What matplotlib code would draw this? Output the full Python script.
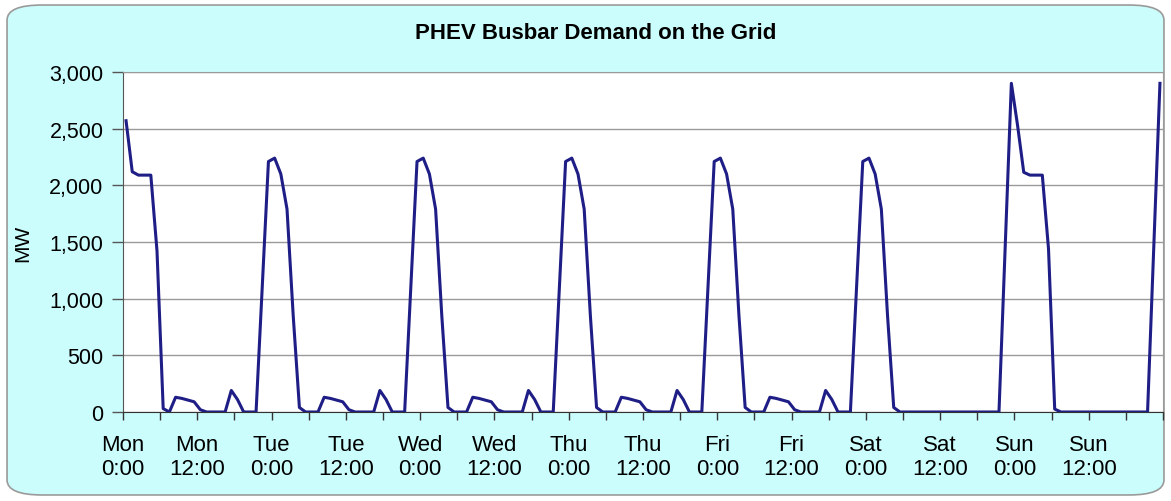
import numpy as np
import matplotlib
matplotlib.use("Agg")
import matplotlib.pyplot as plt
from matplotlib.patches import FancyBboxPatch

plt.rcParams["font.family"] = ["Liberation Sans", "DejaVu Sans"]

# hourly busbar demand (MW), one list per day, hour 0..23
mon = [2570, 2120, 2090, 2090, 2090, 1420, 30, 0, 130, 120, 105, 90,
       20, 0, 0, 0, 0, 190, 110, 0, 0, 0, 1110, 2210]
tue = [2240, 2100, 1790, 850, 40, 0, 0, 0, 130, 120, 105, 90,
       20, 0, 0, 0, 0, 190, 110, 0, 0, 0, 1110, 2210]
wed = [2240, 2100, 1790, 850, 40, 0, 0, 0, 130, 120, 105, 90,
       20, 0, 0, 0, 0, 190, 110, 0, 0, 0, 1110, 2210]
thu = [2240, 2100, 1790, 850, 40, 0, 0, 0, 130, 120, 105, 90,
       20, 0, 0, 0, 0, 190, 110, 0, 0, 0, 1110, 2210]
fri = [2240, 2100, 1790, 850, 40, 0, 0, 0, 130, 120, 105, 90,
       20, 0, 0, 0, 0, 190, 110, 0, 0, 0, 1110, 2210]
sat = [2240, 2100, 1790, 850, 40, 0, 0, 0, 0, 0, 0, 0,
       0, 0, 0, 0, 0, 0, 0, 0, 0, 0, 1450, 2900]
sun = [2530, 2115, 2090, 2090, 2090, 1440, 26, 0, 0, 0, 0, 0,
       0, 0, 0, 0, 0, 0, 0, 0, 0, 0, 1450, 2900]

day_names = ["Mon", "Tue", "Wed", "Thu", "Fri", "Sat", "Sun"]
half_day_times = ["0:00", "12:00"]
y_ticks = [0, 500, 1000, 1500, 2000, 2500, 3000]

demand = np.array(mon + tue + wed + thu + fri + sat + sun)
hours = np.arange(len(demand)) + 0.5  # category centres

fig = plt.figure(figsize=(11.71, 5.02), dpi=100)
fig.patch.set_facecolor("white")
frame = FancyBboxPatch(
    (0.006, 0.012), 0.988, 0.976,
    boxstyle="round,pad=0,rounding_size=0.03",
    transform=fig.transFigure, figure=fig,
    facecolor="#CCFDFD", edgecolor="#9A9A9A", linewidth=1.2, zorder=-10)
fig.patches.append(frame)

ax = fig.add_axes([0.1050, 0.1773, 0.8882, 0.6773])
ax.set_facecolor("white")
ax.plot(hours, demand, color="#1E1E86", linewidth=2.2, solid_joinstyle="round")

ax.set_xlim(0, len(demand))
ax.set_ylim(0, 3000)
ax.set_yticks(y_ticks)
ax.set_yticklabels([f"{v:,}" for v in y_ticks])
ax.yaxis.grid(True, color="#9A9A9A", linewidth=1.0)
ax.set_axisbelow(True)

xticks = np.arange(0, len(demand) + 1, 6)
xlabels = []
for t in xticks:
    if t % 12 == 0 and t < len(demand):
        xlabels.append(day_names[t // 24] + "\n" + half_day_times[(t % 24) // 12])
    else:
        xlabels.append("")
ax.set_xticks(xticks)
ax.set_xticklabels(xlabels, linespacing=1.15)

ax.tick_params(axis="x", direction="out", length=6, width=1, pad=10,
               labelsize=16, colors="#333333", labelcolor="black")
ax.tick_params(axis="y", direction="out", length=8, width=1, pad=6,
               labelsize=15.5, colors="#555555", labelcolor="black")

ax.spines["left"].set_color("#555555")
ax.spines["bottom"].set_color("#333333")
ax.spines["top"].set_color("#9A9A9A")
ax.spines["right"].set_color("#9A9A9A")

ax.set_ylabel("MW", fontsize=15, labelpad=12)
fig.text(0.509, 0.934, "PHEV Busbar Demand on the Grid",
         ha="center", va="center", fontsize=16, fontweight="bold")

fig.savefig("out.png", dpi=100)
plt.close()
